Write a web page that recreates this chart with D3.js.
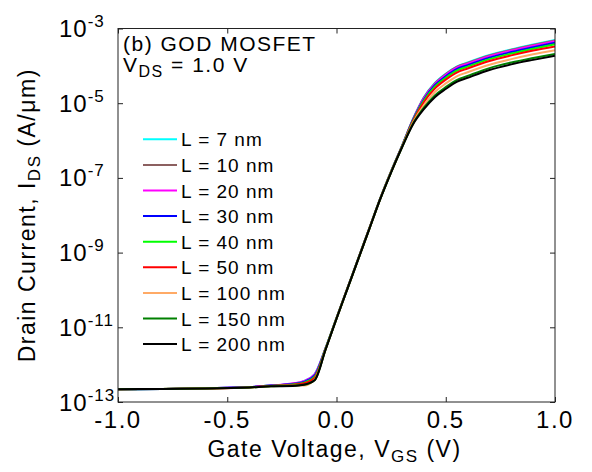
<!DOCTYPE html>
<html>
<head>
<meta charset="utf-8">
<script src="https://cdn.jsdelivr.net/npm/d3@7"></script>
<style>
  body { margin: 0; background: white; }
  text { font-family: "Liberation Sans", Arial, sans-serif; fill: #000; }
</style>
</head>
<body>
<div class="canvas"></div>
<script>
// gate voltage grid (V)
const vgs = [-1.0, -0.8, -0.6, -0.4, -0.3, -0.2, -0.15, -0.1, -0.05, 0.0, 0.05, 0.1, 0.15,
  0.2, 0.25, 0.3, 0.35, 0.4, 0.45, 0.5, 0.55, 0.6, 0.7, 0.8, 0.9, 1.0];

// log10 of drain current (A/um) for each channel length
const L7 = [-12.66, -12.65, -12.63, -12.60, -12.56, -12.51, -12.44, -12.25, -11.55, -10.75, -9.95, -9.15, -8.35,
  -7.55, -6.82, -6.14, -5.43, -4.84, -4.46, -4.21, -4.02, -3.91, -3.71, -3.56, -3.43, -3.31];
const L10 = [-12.66, -12.65, -12.63, -12.60, -12.56, -12.51, -12.45, -12.27, -11.56, -10.75, -9.95, -9.15, -8.35,
  -7.55, -6.82, -6.14, -5.43, -4.85, -4.47, -4.22, -4.03, -3.92, -3.72, -3.57, -3.44, -3.32];
const L20 = [-12.66, -12.65, -12.63, -12.60, -12.56, -12.50, -12.44, -12.26, -11.56, -10.76, -9.96, -9.16, -8.36,
  -7.56, -6.83, -6.14, -5.44, -4.87, -4.49, -4.24, -4.05, -3.94, -3.74, -3.59, -3.46, -3.34];
const L30 = [-12.66, -12.65, -12.63, -12.60, -12.56, -12.52, -12.46, -12.29, -11.57, -10.76, -9.96, -9.16, -8.36,
  -7.56, -6.83, -6.15, -5.45, -4.90, -4.52, -4.28, -4.09, -3.98, -3.78, -3.63, -3.50, -3.38];
const L40 = [-12.66, -12.65, -12.63, -12.61, -12.57, -12.53, -12.48, -12.32, -11.57, -10.76, -9.96, -9.16, -8.36,
  -7.56, -6.83, -6.15, -5.47, -4.93, -4.56, -4.32, -4.13, -4.02, -3.82, -3.67, -3.54, -3.42];
const L50 = [-12.66, -12.65, -12.64, -12.61, -12.57, -12.54, -12.50, -12.35, -11.58, -10.76, -9.96, -9.16, -8.36,
  -7.56, -6.84, -6.16, -5.49, -4.97, -4.61, -4.37, -4.18, -4.07, -3.87, -3.72, -3.59, -3.48];
const L100 = [-12.66, -12.65, -12.64, -12.61, -12.58, -12.56, -12.56, -12.40, -11.59, -10.77, -9.97, -9.17, -8.37,
  -7.57, -6.84, -6.17, -5.52, -5.05, -4.70, -4.47, -4.28, -4.17, -3.97, -3.82, -3.69, -3.58];
const L150 = [-12.66, -12.65, -12.64, -12.61, -12.58, -12.56, -12.54, -12.41, -11.59, -10.77, -9.97, -9.17, -8.37,
  -7.57, -6.85, -6.18, -5.55, -5.12, -4.79, -4.57, -4.38, -4.27, -4.06, -3.91, -3.79, -3.68];
const L200 = [-12.66, -12.65, -12.64, -12.61, -12.58, -12.57, -12.54, -12.42, -11.60, -10.77, -9.97, -9.17, -8.37,
  -7.57, -6.85, -6.18, -5.57, -5.16, -4.84, -4.62, -4.43, -4.32, -4.11, -3.96, -3.84, -3.73];

const labels = ['L = 7 nm', 'L = 10 nm', 'L = 20 nm', 'L = 30 nm', 'L = 40 nm', 'L = 50 nm',
  'L = 100 nm', 'L = 150 nm', 'L = 200 nm'];
const colors = ['#00ffff', '#8c6060', '#ff00ff', '#0000ff', '#00ff00', '#ff0000', '#ffaa66', '#008000', '#000000'];
const seriesList = [L7, L10, L20, L30, L40, L50, L100, L150, L200];

const xTicks = [-1.0, -0.5, 0.0, 0.5, 1.0];
const yTickExp = [-13, -11, -9, -7, -5, -3];

const margin = { top: 28.5, right: 37, bottom: 70, left: 118 };
const width = 592;
const height = 472;
const graphWidth = width - margin.left - margin.right;
const graphHeight = height - margin.top - margin.bottom;

const svg = d3.select('.canvas').append('svg').attr('width', width).attr('height', height);
const graph = svg.append('g').attr('transform', `translate(${margin.left}, ${margin.top})`);

const x = d3.scaleLinear().domain([-1, 1]).range([0, graphWidth]);
const y = d3.scaleLog().domain([1e-13, 1e-3]).range([graphHeight, 0]);

// curves
const line = d3.line()
  .x(d => x(d[0]))
  .y(d => y(Math.pow(10, d[1])))
  .curve(d3.curveMonotoneX);
seriesList.forEach((s, i) => {
  graph.append('path')
    .datum(vgs.map((v, j) => [v, s[j]]))
    .attr('fill', 'none')
    .attr('stroke', colors[i])
    .attr('stroke-width', 2)
    .attr('d', line);
});

// inward ticks on all four sides
const tickLen = 5;
const styleAxis = g => {
  g.select('.domain').remove();
  g.selectAll('line').attr('stroke', '#222');
};
graph.append('g').attr('transform', `translate(0, ${graphHeight})`)
  .call(d3.axisBottom(x).tickValues(xTicks).tickSize(-tickLen).tickFormat(''))
  .call(styleAxis);
graph.append('g')
  .call(d3.axisTop(x).tickValues(xTicks).tickSize(-tickLen).tickFormat(''))
  .call(styleAxis);
graph.append('g')
  .call(d3.axisLeft(y).tickValues(yTickExp.map(e => Math.pow(10, e))).tickSize(-tickLen).tickFormat(''))
  .call(styleAxis);
graph.append('g').attr('transform', `translate(${graphWidth}, 0)`)
  .call(d3.axisRight(y).tickValues(yTickExp.map(e => Math.pow(10, e))).tickSize(-tickLen).tickFormat(''))
  .call(styleAxis);

graph.append('rect')
  .attr('width', graphWidth).attr('height', graphHeight)
  .attr('fill', 'none').attr('stroke', '#222').attr('stroke-width', 1);

// x tick labels
graph.selectAll('.xlab').data(xTicks).enter().append('text')
  .attr('x', d => x(d))
  .attr('y', graphHeight + 26)
  .attr('text-anchor', 'middle')
  .style('font-size', '24px')
  .style('letter-spacing', '1.5px')
  .text(d => d3.format('.1f')(d).replace('−', '-'));

// y tick labels, 10^n
yTickExp.forEach(e => {
  const t = svg.append('text')
    .attr('x', 59)
    .attr('y', margin.top + y(Math.pow(10, e)) + 8.5)
    .style('letter-spacing', '1px');
  t.append('tspan').style('font-size', '24px').text('10');
  t.append('tspan').attr('dy', -10).style('font-size', '17px').text(String(e));
});

// axis titles
const xt = svg.append('text')
  .attr('x', margin.left + x(0) - 2)
  .attr('y', 456.5)
  .attr('text-anchor', 'middle')
  .style('font-size', '23px')
  .style('letter-spacing', '1.5px');
xt.append('tspan').text('Gate Voltage, V');
xt.append('tspan').attr('dy', 5).style('font-size', '17px').text('GS');
xt.append('tspan').attr('dy', -5).text(' (V)');

const yt = svg.append('text')
  .attr('transform', `translate(35, ${margin.top + graphHeight / 2}) rotate(-90)`)
  .attr('text-anchor', 'middle')
  .style('font-size', '23px')
  .style('letter-spacing', '1.5px');
yt.append('tspan').text('Drain Current, I');
yt.append('tspan').attr('dy', 5).style('font-size', '17px').text('DS');
yt.append('tspan').attr('dy', -5).text(' (A/\u03bcm)');

// annotation
svg.append('text').attr('x', 123).attr('y', 51)
  .style('font-size', '21px').style('letter-spacing', '1.5px')
  .text('(b) GOD MOSFET');
const vds = svg.append('text').attr('x', 123).attr('y', 72)
  .style('font-size', '21px').style('letter-spacing', '1.5px');
vds.append('tspan').text('V');
vds.append('tspan').attr('dy', 5).style('font-size', '16px').text('DS');
vds.append('tspan').attr('dy', -5).text(' = 1.0 V');

// legend
const legend = svg.append('g').attr('transform', 'translate(143, 139.3)');
labels.forEach((lab, i) => {
  const row = legend.append('g').attr('transform', `translate(0, ${i * 25.6})`);
  row.append('line').attr('x1', 0).attr('x2', 34).attr('y1', 0).attr('y2', 0)
    .attr('stroke', colors[i]).attr('stroke-width', 2);
  row.append('text').attr('x', 38).attr('y', 7)
    .style('font-size', '19px').style('letter-spacing', '1px')
    .text(lab);
});
</script>
</body>
</html>
